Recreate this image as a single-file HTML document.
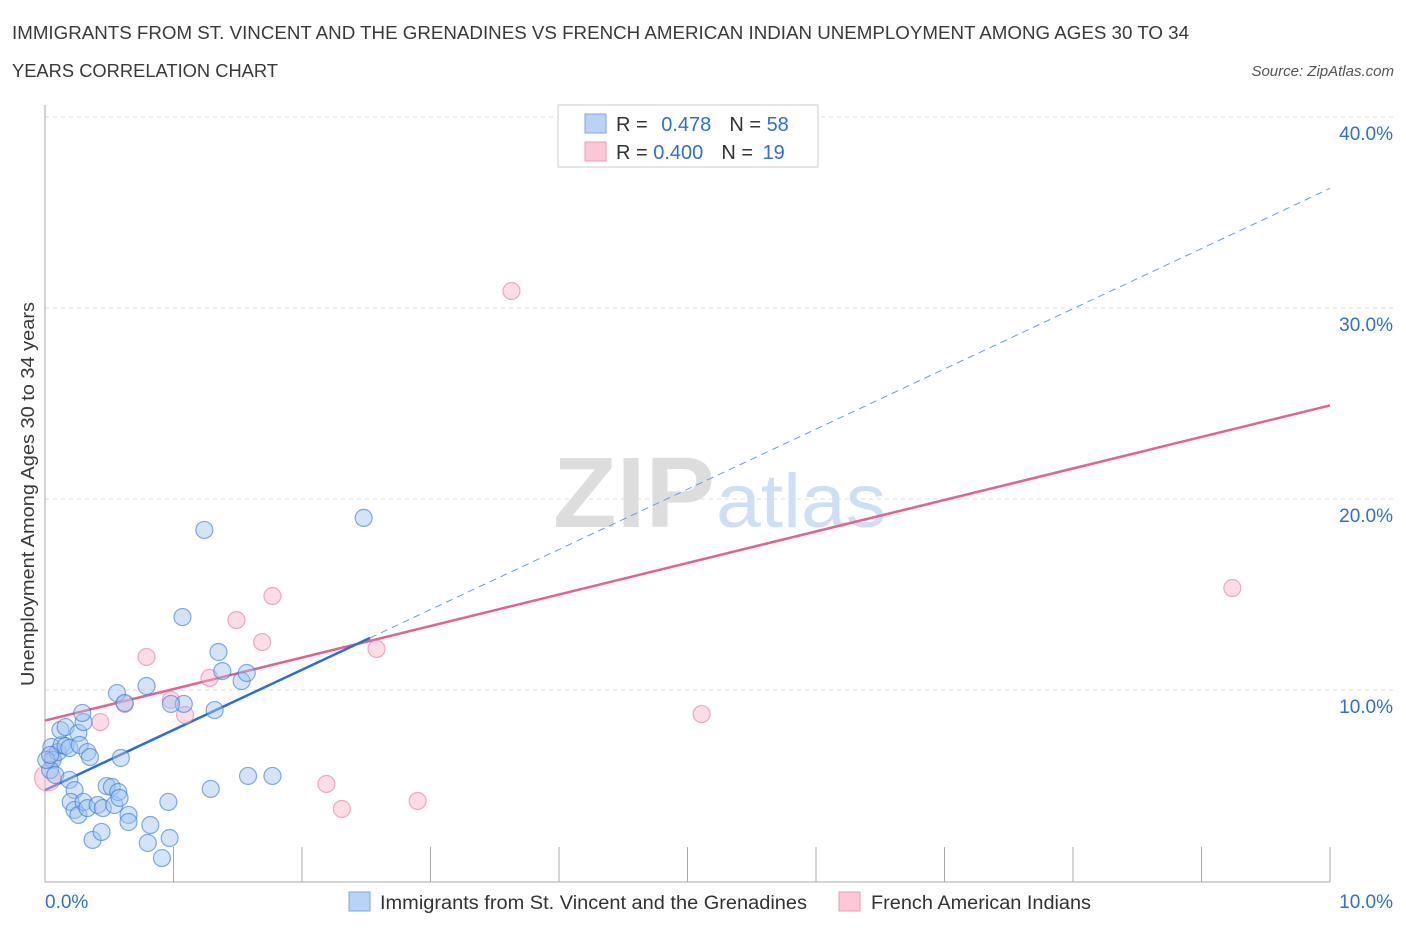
<!DOCTYPE html>
<html><head><meta charset="utf-8"><style>
body{margin:0;background:#fff;font-family:"Liberation Sans",sans-serif;}
svg text{font-family:"Liberation Sans",sans-serif;}
</style></head><body>
<svg id="chart" width="1406" height="930" xmlns="http://www.w3.org/2000/svg">
<text x="12" y="39" font-size="18" fill="#3a3a3a" textLength="1177" lengthAdjust="spacingAndGlyphs">IMMIGRANTS FROM ST. VINCENT AND THE GRENADINES VS FRENCH AMERICAN INDIAN UNEMPLOYMENT AMONG AGES 30 TO 34</text>
<text x="12" y="77" font-size="18" fill="#3a3a3a" textLength="266" lengthAdjust="spacingAndGlyphs">YEARS CORRELATION CHART</text>
<text x="1394" y="76" font-size="15" fill="#555" font-style="italic" text-anchor="end">Source: ZipAtlas.com</text>
<text x="553" y="527" font-size="100" fill="#ddd" font-family="Liberation Serif" font-weight="bold" textLength="162" lengthAdjust="spacingAndGlyphs">ZIP</text>
<text x="716" y="527" font-size="76" fill="#cfdff3" textLength="170" lengthAdjust="spacingAndGlyphs">atlas</text>
<text transform="translate(34,494) rotate(-90)" font-size="18" fill="#3a3a3a" text-anchor="middle" textLength="384" lengthAdjust="spacingAndGlyphs">Unemployment Among Ages 30 to 34 years</text>
<g id="grid"></g><g id="axes"></g><g id="lines"></g><g id="points"></g>
<g>
<rect x="558" y="105" width="260" height="62" fill="#fff" stroke="#ccc"/>
<rect x="585" y="114" width="21" height="19" fill="#b8d3f6" stroke="#7aa8e6"/>
<rect x="585" y="142" width="21" height="19" fill="#fcc8d7" stroke="#eb9ab2"/>
<text x="616" y="131" font-size="20" fill="#333">R = <tspan fill="#2f6fd6" dx="8">0.478</tspan><tspan dx="18" fill="#333">N = </tspan><tspan fill="#2f6fd6">58</tspan></text>
<text x="616" y="159" font-size="20" fill="#333">R = <tspan fill="#2f6fd6">0.400</tspan><tspan dx="18" fill="#333">N = </tspan><tspan fill="#2f6fd6" dx="4">19</tspan></text>
</g>
<g>
<rect x="349" y="892" width="21" height="19" fill="#b8d3f6" stroke="#7aa8e6"/>
<text x="380" y="909" font-size="19" fill="#333" textLength="427" lengthAdjust="spacingAndGlyphs">Immigrants from St. Vincent and the Grenadines</text></g>
<g>
<rect x="839" y="892" width="21" height="19" fill="#fcc8d7" stroke="#eb9ab2"/>
<text x="871" y="909" font-size="19" fill="#333" textLength="220" lengthAdjust="spacingAndGlyphs">French American Indians</text></g>
</svg>
<script>
const xTicks=[0,1,2,3,4,5,6,7,8,9,10];
const yTicks=[10,20,30,40];
const yTickLabels=["10.0%","20.0%","30.0%","40.0%"];
const blueX=[0.05,0.06,0.04,0.08,0.10,0.13,0.16,0.19,0.12,0.16,0.26,0.30,0.29,0.27,0.33,0.35,0.19,0.23,0.20,0.23,0.26,0.30,0.37,0.44,0.33,0.41,0.45,0.48,0.52,0.54,0.57,0.58,0.65,0.65,0.82,0.80,0.91,0.97,0.96,0.59,0.56,0.62,0.79,1.08,0.98,1.32,1.38,1.35,1.53,1.57,1.29,1.58,1.77,1.07,1.24,2.48,0.01,0.04];
const blueY=[7.02,6.34,5.81,5.55,6.75,7.12,7.07,6.96,7.91,8.06,7.75,8.32,8.80,7.12,6.75,6.49,5.29,4.76,4.14,3.72,3.46,4.14,2.15,2.57,3.82,3.98,3.82,4.97,4.92,3.98,4.66,4.35,3.46,3.09,2.93,1.99,1.20,2.25,4.14,6.44,9.84,9.32,10.21,9.27,9.27,8.95,10.99,11.99,10.47,10.89,4.82,5.50,5.50,13.82,18.38,19.01,6.34,6.60];
const pinkX=[0.02,0.06,0.43,0.62,0.79,0.98,1.09,1.28,1.49,1.69,1.77,2.58,2.19,2.31,2.90,3.63,4.55,5.11,9.24];
const pinkY=[5.39,6.49,8.32,9.27,11.73,9.48,8.69,10.63,13.66,12.51,14.92,12.15,5.08,3.77,4.19,30.89,40.0,8.74,15.34];
const blueFit=[4.76,3.15]; // intercept, slope
const pinkFit=[8.4,1.65];
const blueSolidEnd=2.53, fitEnd=10;
const NS="http://www.w3.org/2000/svg";
const X=v=>45+v*128.5, Y=v=>881-v*19.1;
function mk(tag,attrs,parent){const e=document.createElementNS(NS,tag);for(const k in attrs)e.setAttribute(k,attrs[k]);document.getElementById(parent).appendChild(e);return e;}
yTicks.forEach((t,i)=>{
 const g=mk('line',{x1:45,x2:1395,y1:Y(t),y2:Y(t),stroke:'#ddd','stroke-dasharray':'4,4'},'grid');
 
 
 const l=mk('text',{x:1393,y:Y(t)+23,'font-size':19,fill:'#2f6fd6','text-anchor':'end'},'axes');l.textContent=yTickLabels[i];
 
 
});
mk('line',{x1:45,x2:45,y1:105,y2:882,stroke:'#aaa'},'axes');
mk('line',{x1:45,x2:1330,y1:882,y2:882,stroke:'#aaa'},'axes');
xTicks.forEach(t=>{const e=mk('line',{x1:X(t),x2:X(t),y1:847,y2:882,stroke:'#aaa'},'axes');
 
 });
[[0,'0.0%',45,'start'],[10,'10.0%',1393,'end']].forEach(a=>{const e=mk('text',{x:a[2],y:908,'font-size':19,fill:'#2f6fd6','text-anchor':a[3]},'axes');e.textContent=a[1];
 
 });
let e;
e=mk('line',{x1:X(0),y1:Y(pinkFit[0]),x2:X(fitEnd),y2:Y(pinkFit[0]+pinkFit[1]*fitEnd),stroke:'#e8608d','stroke-width':2.5},'lines');


e=mk('line',{x1:X(0),y1:Y(blueFit[0]),x2:X(blueSolidEnd),y2:Y(blueFit[0]+blueFit[1]*blueSolidEnd),stroke:'#2a6fd8','stroke-width':2.5},'lines');


e=mk('line',{x1:X(blueSolidEnd),y1:Y(blueFit[0]+blueFit[1]*blueSolidEnd),x2:X(fitEnd),y2:Y(blueFit[0]+blueFit[1]*fitEnd),stroke:'#6b9be0','stroke-width':1,'stroke-dasharray':'7,5'},'lines');


pinkX.forEach((v,i)=>{const c=mk('circle',{cx:X(v),cy:Y(pinkY[i]),r:i==0?13:8.5,fill:'rgba(248,180,200,0.45)',stroke:'rgba(232,120,155,0.6)','stroke-width':1.2},'points');
 
 });
blueX.forEach((v,i)=>{const c=mk('circle',{cx:X(v),cy:Y(blueY[i]),r:8.5,fill:'rgba(160,195,240,0.45)',stroke:'rgba(50,120,215,0.6)','stroke-width':1.2},'points');
 
 });
</script>
</body></html>
